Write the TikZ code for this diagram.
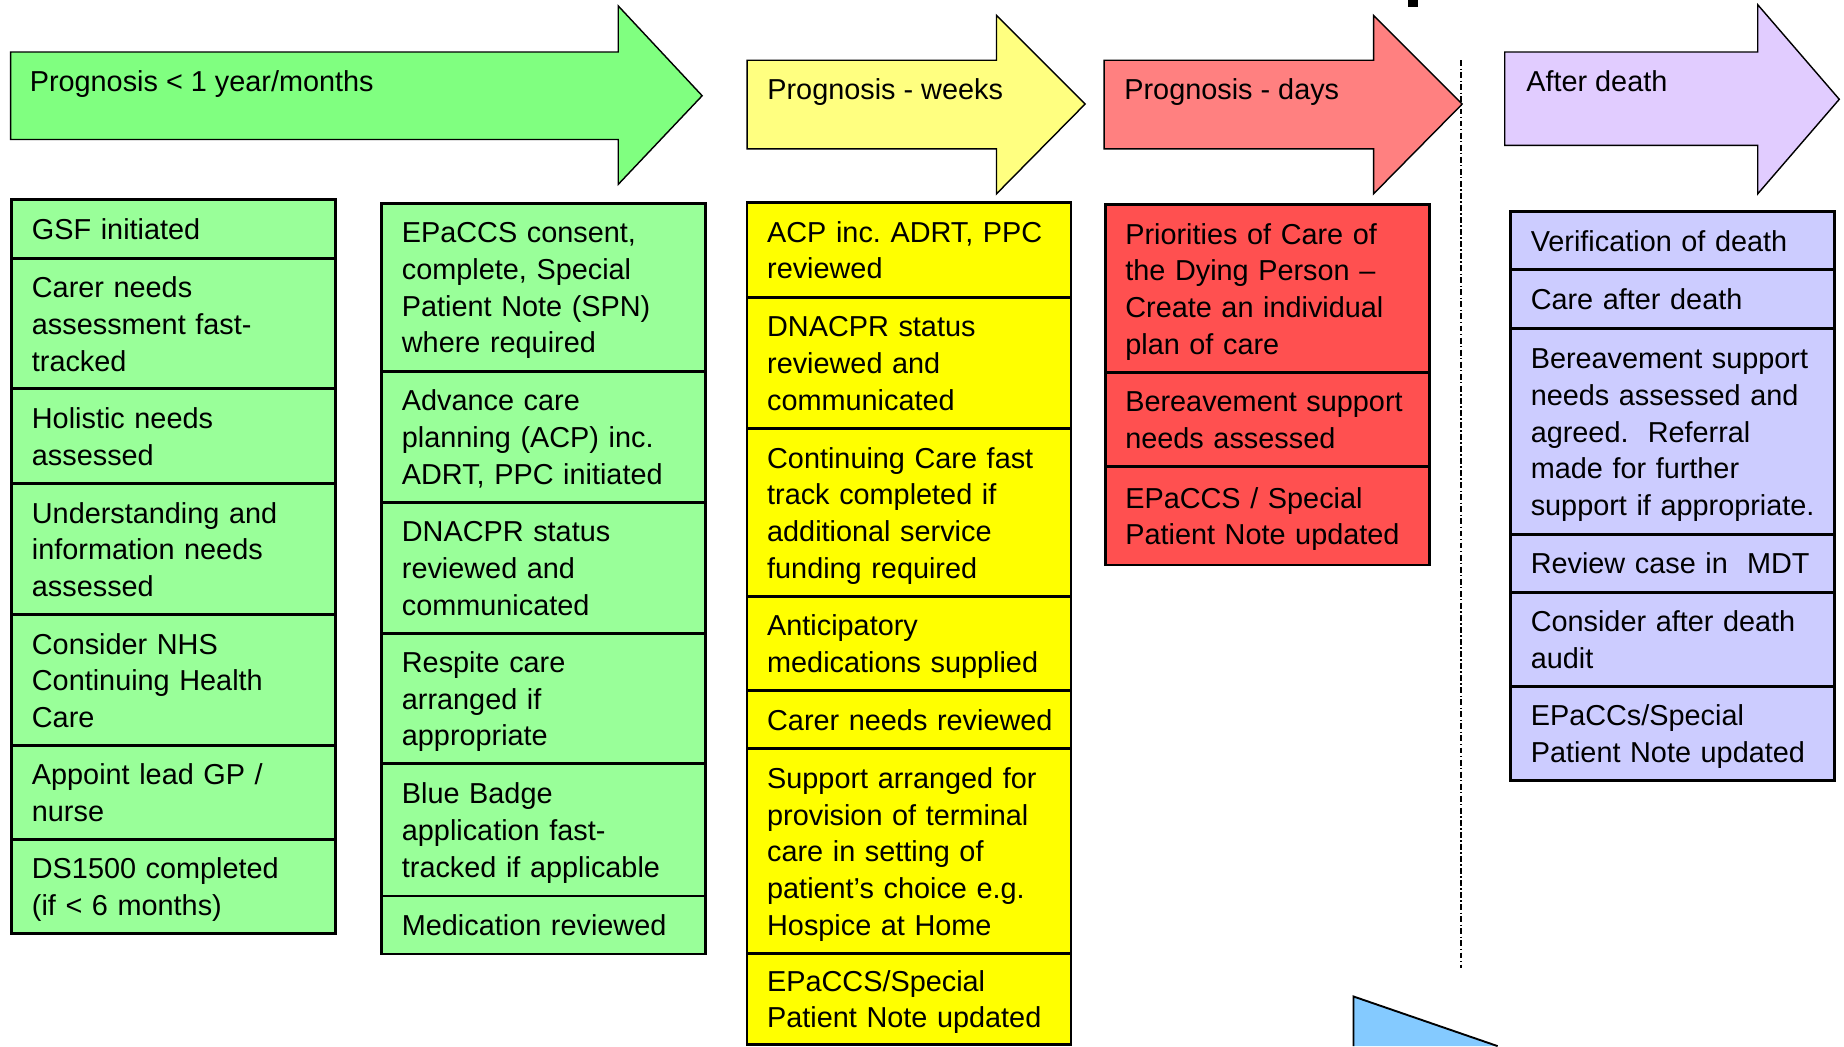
\documentclass[tikz,border=0pt]{standalone}
\usepackage{fontspec}
\setmainfont{Liberation Sans}
\usepackage{tikz}
\usetikzlibrary{positioning}

\definecolor{arrowgreen}{HTML}{80FF80}
\definecolor{boxgreen}{HTML}{99FF99}
\definecolor{arrowyellow}{HTML}{FFFF80}
\definecolor{boxyellow}{HTML}{FFFF00}
\definecolor{arrowred}{HTML}{FF8080}
\definecolor{boxred}{HTML}{FF5050}
\definecolor{arrowlilac}{HTML}{E1CCFF}
\definecolor{boxlilac}{HTML}{CCCCFF}
\definecolor{skyblue}{HTML}{84CAFF}

\newcommand{\topstrut}{\rule{0pt}{24.5pt}}
\newcommand{\botstrut}{\rule[-6.5pt]{0pt}{6.5pt}}

\tikzset{
  every node/.style={font=\fontsize{24.4}{31}\selectfont},
  stage/.style={draw, line width=1.2pt},
  title/.style={anchor=base west, inner sep=0pt},
  task/.style={draw, line width=2.4pt, outer sep=0pt, inner xsep=0pt, inner ysep=0pt,
    text width=274pt, align=left,
    execute at begin node={\leftskip=17pt\topstrut}, execute at end node=\botstrut},
  gtask/.style={task, fill=boxgreen},
  ytask/.style={task, fill=boxyellow},
  rtask/.style={task, fill=boxred},
  ltask/.style={task, fill=boxlilac}
}

\begin{document}
\frenchspacing
\begin{tikzpicture}[x=1pt, y=-1pt]
\useasboundingbox (0,0) rectangle (1560,885);

% stage arrows
\filldraw[stage, fill=arrowgreen] (9,44) -- (523,44) -- (523,5) -- (594,81) -- (523,156) -- (523,118) -- (9,118) -- cycle;
\filldraw[stage, fill=arrowyellow] (632,51) -- (843,51) -- (843,13) -- (918,88) -- (843,164) -- (843,126) -- (632,126) -- cycle;
\filldraw[stage, fill=arrowred] (934,51) -- (1162,51) -- (1162,13) -- (1237,88) -- (1162,164) -- (1162,126) -- (934,126) -- cycle;
\filldraw[stage, fill=arrowlilac] (1273,44) -- (1487,44) -- (1487,4) -- (1556,84) -- (1487,164) -- (1487,123) -- (1273,123) -- cycle;
\node[title] (tmonths) at (25,77) {Prognosis < 1 year/months};
\node[title] (tweeks) at (649,84) {Prognosis - weeks};
\node[title] (tdays) at (951,84) {Prognosis - days};
\node[title] (tdeath) at (1291,77) {After death};

% months
\node[gtask, minimum height=50pt, anchor=north west] (gsf) at (10,169) {GSF initiated};
\node[gtask, minimum height=110pt, below=0pt of gsf] (carerAss) {Carer needs\\assessment fast-\\tracked};
\node[gtask, minimum height=80pt, below=0pt of carerAss] (holistic) {Holistic needs\\assessed};
\node[gtask, minimum height=111pt, below=0pt of holistic] (understand) {Understanding and\\information needs\\assessed};
\node[gtask, minimum height=111pt, below=0pt of understand] (nhsChc) {Consider NHS\\Continuing Health\\Care};
\node[gtask, minimum height=79pt, below=0pt of nhsChc] (leadGp) {Appoint lead GP /\\nurse};
\node[gtask, minimum height=80pt, below=0pt of leadGp] (ds1500) {DS1500 completed\\(if < 6 months)};

\node[gtask, minimum height=142pt, anchor=north west] (epaccsConsent) at (323,172) {EPaCCS consent,\\complete, Special\\Patient Note (SPN)\\where required};
\node[gtask, minimum height=111pt, below=0pt of epaccsConsent] (acpStart) {Advance care\\planning (ACP) inc.\\ADRT, PPC initiated};
\node[gtask, minimum height=111pt, below=0pt of acpStart] (dnacprStart) {DNACPR status\\reviewed and\\communicated};
\node[gtask, minimum height=110pt, below=0pt of dnacprStart] (respite) {Respite care\\arranged if\\appropriate};
\node[gtask, minimum height=112pt, below=0pt of respite] (blueBadge) {Blue Badge\\application fast-\\tracked if applicable};
\node[gtask, minimum height=49pt, below=0pt of blueBadge] (medRev) {Medication reviewed};

% weeks
\node[ytask, minimum height=80pt, anchor=north west] (acpRev) at (632,171.5) {ACP inc. ADRT, PPC\\reviewed};
\node[ytask, minimum height=111pt, below=0pt of acpRev] (dnacprRev) {DNACPR status\\reviewed and\\communicated};
\node[ytask, minimum height=142pt, below=0pt of dnacprRev] (ccFast) {Continuing Care fast\\track completed if\\additional service\\funding required};
\node[ytask, minimum height=80pt, below=0pt of ccFast] (anticip) {Anticipatory\\medications supplied};
\node[ytask, minimum height=49pt, below=0pt of anticip] (carerRev) {Carer needs reviewed};
\node[ytask, minimum height=173pt, below=0pt of carerRev] (termCare) {Support arranged for\\provision of terminal\\care in setting of\\patient’s choice e.g.\\Hospice at Home};
\node[ytask, minimum height=77pt, below=0pt of termCare] (epaccsWeeks) {EPaCCS/Special\\Patient Note updated};

% days
\node[rtask, minimum height=142pt, anchor=north west] (priorities) at (935,173) {Priorities of Care of\\the Dying Person –\\Create an individual\\plan of care};
\node[rtask, minimum height=80pt, below=0pt of priorities] (bereaveDays) {Bereavement support\\needs assessed};
\node[rtask, minimum height=83pt, below=0pt of bereaveDays] (epaccsDays) {EPaCCS / Special\\Patient Note updated};

% after death
\node[ltask, minimum height=49pt, anchor=north west] (verify) at (1278,179) {Verification of death};
\node[ltask, minimum height=50pt, below=0pt of verify] (careAfter) {Care after death};
\node[ltask, minimum height=174pt, below=0pt of careAfter] (bereaveAfter) {Bereavement support\\needs assessed and\\agreed.\ \ Referral\\made for further\\support if appropriate.};
\node[ltask, minimum height=49pt, below=0pt of bereaveAfter] (mdt) {Review case in\ \ MDT};
\node[ltask, minimum height=80pt, below=0pt of mdt] (audit) {Consider after death\\audit};
\node[ltask, minimum height=79pt, below=0pt of audit] (epaccsAfter) {EPaCCs/Special\\Patient Note updated};

% death line
\coordinate (sepTop) at (1236,51);
\coordinate (sepBot) at (1236,819);
\draw[line width=1.5pt, dash pattern=on 5pt off 2pt on 1.2pt off 2pt] (sepTop) -- (sepBot);

% cut-off bits at the edges
\fill (1191,0) rectangle (1200,6);
\fill[skyblue] (1145,885) -- (1145,843) -- (1267,885) -- cycle;
\draw[line width=1.6pt] (1145,885) -- (1145,843) -- (1267,885);
\end{tikzpicture}
\end{document}
